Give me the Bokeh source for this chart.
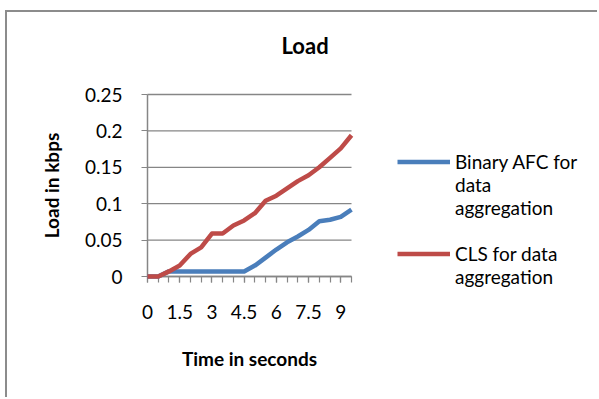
from bokeh.plotting import figure
from bokeh.models import FixedTicker, Legend, LegendItem, Title, Range1d
from bokeh.core.properties import value
from bokeh.embed import file_html
from bokeh.resources import INLINE

# ---- data ----
times = [0, 0.5, 1, 1.5, 2, 2.5, 3, 3.5, 4, 4.5, 5, 5.5, 6, 6.5, 7, 7.5, 8, 8.5, 9, 9.5]
binary_afc = [0, 0, 0.007, 0.007, 0.007, 0.007, 0.007, 0.007, 0.007, 0.007,
              0.015, 0.026, 0.037, 0.047, 0.055, 0.064, 0.076, 0.078, 0.082, 0.092]
cls = [0, 0, 0.007, 0.015, 0.031, 0.040, 0.059, 0.059, 0.070, 0.077,
       0.087, 0.104, 0.111, 0.121, 0.131, 0.139, 0.150, 0.163, 0.176, 0.194]
x_tick_values = [0, 1.5, 3, 4.5, 6, 7.5, 9]
x_tick_labels = ["0", "1.5", "3", "4.5", "6", "7.5", "9"]
y_tick_values = [0, 0.05, 0.1, 0.15, 0.2, 0.25]
y_tick_labels = ["0", "0.05", "0.1", "0.15", "0.2", "0.25"]
series_names = [["Binary AFC for", "data", "aggregation"], ["CLS for data", "aggregation"]]

FONT = "Lato"
GRAY = "#868686"
BLUE = "#4A7EBB"
RED = "#BE4B48"

# ---- layout (canvas pixels) ----
W, H = 592, 387
FRAME_TOP = 60                       # canvas rows above the frame (title area)
AX_L, AX_R, AX_T, AX_B = 140, 344, 82, 264   # box of the data area inside the canvas

x0, x1 = times[0], times[-1]
y0, y1 = y_tick_values[0], y_tick_values[-1]
sx = (x1 - x0) / (AX_R - AX_L)
sy = (y1 - y0) / (AX_B - AX_T)
x_start, x_end = x0 - AX_L * sx, x1 + (W - AX_R) * sx
y_start, y_end = y0 - (H - AX_B) * sy, y1 + (AX_T - FRAME_TOP) * sy

p = figure(width=W, height=H, output_backend="svg", toolbar_location=None, title=None,
           x_range=Range1d(x_start, x_end), y_range=Range1d(y_start, y_end),
           min_border_left=0, min_border_right=0, min_border_top=FRAME_TOP,
           min_border_bottom=0,
           background_fill_color="white", border_fill_color="white")
p.styles = {"border-left": "2px solid #8C8C8C", "border-top": "2px solid #8C8C8C"}
p.margin = (10, 0, 0, 5)
p.outline_line_color = None

# title (spacer first = closest to frame, then the visible title)
p.add_layout(Title(text=" ", text_font_size="1px", standoff=11), "above")
p.add_layout(Title(text="Load", align="left", offset=274, standoff=0,
                   text_font=FONT, text_font_size="22px", text_font_style="bold",
                   text_color="black"), "above")

# axes drawn inside the frame at the data origin
p.xaxis.fixed_location = y0
p.yaxis.fixed_location = x0
p.xaxis.bounds = (x0, x1)
p.yaxis.bounds = (y0, y1)
p.xaxis.ticker = FixedTicker(ticks=x_tick_values, minor_ticks=times)
p.xaxis.major_label_overrides = dict(zip(x_tick_values, x_tick_labels))
p.yaxis.ticker = FixedTicker(ticks=y_tick_values, minor_ticks=[])
p.yaxis.major_label_overrides = dict(zip(y_tick_values, y_tick_labels))
p.xaxis.axis_label = "Time in seconds"
p.yaxis.axis_label = "Load in kbps"
for ax in (p.xaxis, p.yaxis):
    ax.axis_line_color = GRAY
    ax.axis_line_width = 1.5
    ax.major_tick_line_color = GRAY
    ax.major_tick_line_width = 1.2
    ax.minor_tick_line_color = GRAY
    ax.minor_tick_line_width = 1.2
    ax.major_tick_out = 6
    ax.major_tick_in = 0
    ax.minor_tick_out = 6
    ax.minor_tick_in = 0
    ax.major_label_text_font = FONT
    ax.major_label_text_font_size = "19px"
    ax.major_label_text_color = "black"
    ax.axis_label_text_font = FONT
    ax.axis_label_text_font_size = "19px"
    ax.axis_label_text_font_style = "bold"
    ax.axis_label_text_color = "black"
p.xaxis.major_label_standoff = 22
p.xaxis.axis_label_standoff = 25
p.yaxis.major_label_standoff = 19
p.yaxis.axis_label_standoff = 19

p.xgrid.visible = False
p.ygrid.visible = False
# horizontal gridlines limited to the data area
p.segment(x0=[x0] * len(y_tick_values), y0=y_tick_values,
          x1=[x1] * len(y_tick_values), y1=y_tick_values,
          line_color=GRAY, line_width=1.3)

# series
r_blue = p.line(times, binary_afc, line_color=BLUE, line_width=4.5, line_join="round",
                level="overlay")
r_red = p.line(times, cls, line_color=RED, line_width=4.5, line_join="round",
               level="overlay")

# legend: wrapped labels, one row per text line, blank row between series
items = [LegendItem(label=value(series_names[0][0]), renderers=[r_blue])]
items += [LegendItem(label=value(n), renderers=[]) for n in series_names[0][1:]]
items += [LegendItem(label=value(" "), renderers=[])]
items += [LegendItem(label=value(series_names[1][0]), renderers=[r_red])]
items += [LegendItem(label=value(n), renderers=[]) for n in series_names[1][1:]]
leg = Legend(items=items, location=(390, 111))
leg.label_text_font = FONT
leg.label_text_font_size = "19px"
leg.label_text_color = "black"
leg.label_standoff = 5
leg.glyph_width = 53
leg.glyph_height = 23
leg.label_height = 23
leg.spacing = 0
leg.padding = 0
leg.margin = 0
leg.border_line_color = None
leg.background_fill_alpha = 0
p.add_layout(leg)

open("out.html", "w").write(file_html(p, INLINE))
